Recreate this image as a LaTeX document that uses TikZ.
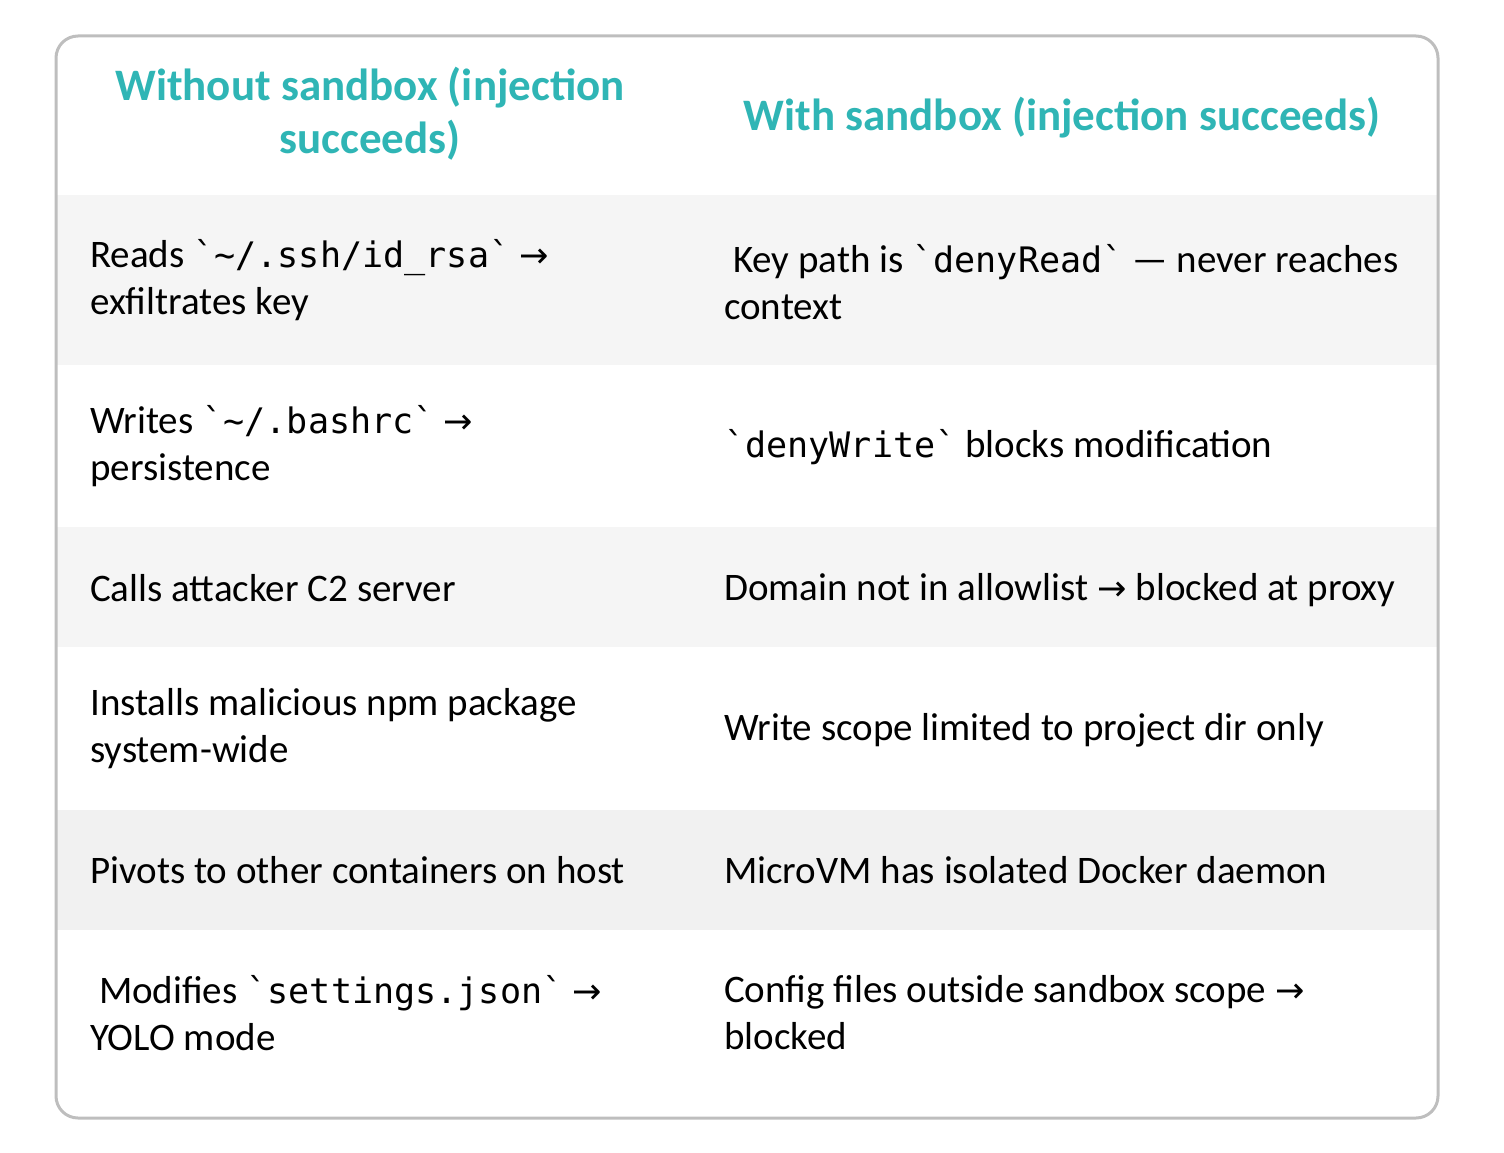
\documentclass[tikz,border=0pt]{standalone}
\usepackage{fontspec}
\setmainfont{Carlito}
\setmonofont{DejaVu Sans Mono}[Scale=0.9]
\newfontfamily\arrfont{DejaVu Sans}[Scale=0.9]
\usetikzlibrary{positioning}
\definecolor{headcol}{RGB}{47,181,181}
\definecolor{rowfill}{RGB}{245,245,245}
\definecolor{rowfilldark}{RGB}{241,241,241}
\definecolor{framecol}{RGB}{190,190,190}
\newcommand{\bt}{\texttt{\string`}}
\newcommand{\rarr}{{\arrfont\symbol{"2192}}}
\tikzset{
    head/.style={
        font=\fontsize{45pt}{53pt}\selectfont\bfseries,
        text=headcol,
        align=center
    },
    cell/.style={
        anchor=west,
        align=left,
        inner sep=0pt,
        font=\fontsize{39pt}{47pt}\selectfont
    }
}
\begin{document}
\begin{tikzpicture}[x=1pt, y=-1pt]
\useasboundingbox (0,0) rectangle (1504,1153);

% Row bands
\fill[rowfill] (57,195) rectangle (1437,365);
\fill[rowfill] (57,527) rectangle (1437,647);
\fill[rowfilldark] (57,810) rectangle (1437,930);

% Frame
\draw[framecol, line width=3pt, rounded corners=22pt] (56,36) rectangle (1438,1118);

% Header
\node[head] (hleft) at (370,114) {Without sandbox (injection\\succeeds)};
\node[head] (hright) at (1062,118) {With sandbox (injection succeeds)};

% Left column
\node[cell] (l1) at (90,280) {Reads \bt\texttt{\string~/.ssh/id\_rsa}\bt\ \rarr\\exfiltrates key};
\node[cell] (l2) at (90,446) {Writes \bt\texttt{\string~/.bashrc}\bt\ \rarr\\persistence};
\node[cell] (l3) at (90,588) {Calls attacker C2 server};
\node[cell] (l4) at (90,729) {Installs malicious npm package\\system-wide};
\node[cell] (l5) at (90,870) {Pivots to other containers on host};
\node[cell] (l6) at (90,1013) {\ Modifies \bt\texttt{settings.json}\bt\ \rarr\\YOLO mode};

% Right column
\node[cell] (r1) at (724,282) {\ Key path is \bt\texttt{denyRead}\bt\ --- never reaches\\context};
\node[cell] (r2) at (724,447) {\bt\texttt{denyWrite}\bt\ blocks modification};
\node[cell] (r3) at (724,590) {Domain not in allowlist \rarr\ blocked at proxy};
\node[cell] (r4) at (724,730) {Write scope limited to project dir only};
\node[cell] (r5) at (724,870) {MicroVM has isolated Docker daemon};
\node[cell] (r6) at (724,1013) {Config files outside sandbox scope \rarr\\blocked};
\end{tikzpicture}
\end{document}
